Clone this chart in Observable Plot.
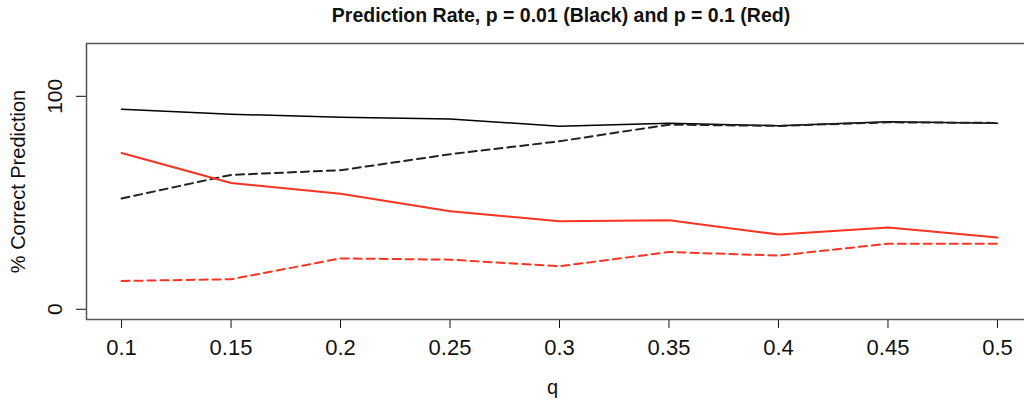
<!DOCTYPE html>
<html>
<head>
<meta charset="utf-8">
<script src="https://cdn.jsdelivr.net/npm/d3@7"></script>
<script src="https://cdn.jsdelivr.net/npm/@observablehq/plot@0.6"></script>
<style>
  html, body { margin: 0; padding: 0; background: #fff; overflow: hidden; width: 1024px; height: 402px; }
  #title { box-sizing: border-box; width: 1024px; height: 30px; padding-top: 5px; padding-left: 98px;
    text-align: center; font: bold 19.5px "Liberation Sans", Arial, sans-serif; line-height: 20px; color: #111; }
  #chart { width: 1024px; height: 372px; overflow: hidden; }
  #chart svg { max-width: none !important; display: block; }
</style>
</head>
<body>
<div id="title">Prediction Rate, p = 0.01 (Black) and p = 0.1 (Red)</div>
<div id="chart"></div>
<script>
const qValues = [0.1, 0.15, 0.2, 0.25, 0.3, 0.35, 0.4, 0.45, 0.5];
const blackSolid = [93.9, 91.6, 90.2, 89.4, 85.9, 87.3, 86.2, 88.1, 87.4];
const blackDashed = [52.0, 63.1, 65.3, 72.8, 78.9, 86.7, 86.1, 87.8, 87.5];
const redSolid = [73.4, 59.3, 54.3, 46.0, 41.3, 41.8, 35.1, 38.4, 33.7];
const redDashed = [13.3, 14.1, 23.9, 23.3, 20.2, 26.9, 25.2, 30.8, 30.8];
const xTicks = ["0.1", "0.15", "0.2", "0.25", "0.3", "0.35", "0.4", "0.45", "0.5"];
const yTicks = [0, 100];
const yLabel = "% Correct Prediction";
const xLabel = "q";

const toRows = (vals) => qValues.map((q, i) => ({q, v: vals[i]}));

const font = '"Liberation Sans", Arial, sans-serif';
const chart = Plot.plot({
  width: 1040,
  height: 372,
  marginLeft: 86,
  marginRight: 8,
  marginTop: 13,
  marginBottom: 83,
  style: {fontFamily: font, fontSize: "22px", color: "#111", background: "white", overflow: "visible", maxWidth: "none"},
  x: {domain: [0.084, 0.516], ticks: xTicks.map(Number), tickFormat: d => xTicks[qValues.indexOf(d)] ?? String(d), tickSize: 9, tickPadding: 11, label: null},
  y: {domain: [-4.8, 124.8], ticks: yTicks, tickFormat: () => "", tickSize: 10, tickPadding: 0, label: null},
  marks: [
    Plot.frame({stroke: "#555", strokeWidth: 1.5}),
    Plot.line(toRows(blackSolid), {x: "q", y: "v", stroke: "#000", strokeWidth: 1.5}),
    Plot.line(toRows(blackDashed), {x: "q", y: "v", stroke: "#222", strokeWidth: 2, strokeDasharray: "8,5"}),
    Plot.line(toRows(redSolid), {x: "q", y: "v", stroke: "#ff3322", strokeWidth: 2}),
    Plot.line(toRows(redDashed), {x: "q", y: "v", stroke: "#ff3322", strokeWidth: 2, strokeDasharray: "8,5"}),
    Plot.text(yTicks, {y: d => d, text: d => String(d), frameAnchor: "left", rotate: -90, dx: -31, lineAnchor: "middle", textAnchor: "middle", fontSize: 21, fill: "#111"}),
    Plot.text([yLabel], {text: d => d, frameAnchor: "left", rotate: -90, dx: -68, lineAnchor: "middle", textAnchor: "middle", fontSize: 20, fill: "#111"}),
    Plot.text([xLabel], {text: d => d, frameAnchor: "bottom", dx: -7, dy: 68, lineAnchor: "middle", textAnchor: "middle", fontSize: 20, fill: "#111"})
  ]
});
chart.style.maxWidth = "none";
d3.select(chart).selectAll("line").attr("stroke", "#777");
document.getElementById("chart").appendChild(chart);
</script>
</body>
</html>
